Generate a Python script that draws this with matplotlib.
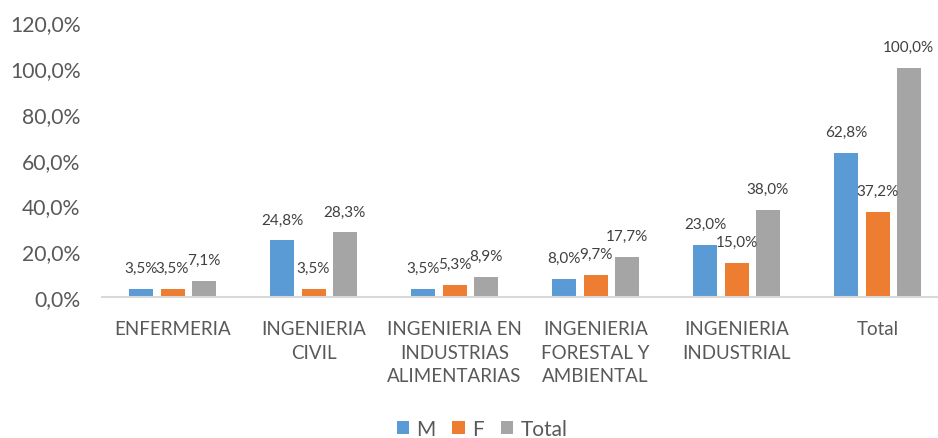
import matplotlib
matplotlib.use("Agg")
import matplotlib.pyplot as plt
import numpy as np

categories = ["ENFERMERIA", "INGENIERIA\nCIVIL", "INGENIERIA EN\nINDUSTRIAS\nALIMENTARIAS",
              "INGENIERIA\nFORESTAL Y\nAMBIENTAL", "INGENIERIA\nINDUSTRIAL", "Total"]
series_names = ["M", "F", "Total"]
m_values = [3.5, 24.8, 3.5, 8.0, 23.0, 62.8]
f_values = [3.5, 3.5, 5.3, 9.7, 15.0, 37.2]
total_values = [7.1, 28.3, 8.9, 17.7, 38.0, 100.0]
y_ticks = [0, 20, 40, 60, 80, 100, 120]

colors = ["#5B9BD5", "#ED7D31", "#A5A5A5"]
text_color = "#595959"
plt.rcParams['font.family'] = ['Lato', 'DejaVu Sans']

W, H = 938, 439
fig = plt.figure(figsize=(W / 100, H / 100), dpi=100)
left, right, bottom_px, top_px = 102, 948, 298.3, 23.1
ax = fig.add_axes([left / W, (H - bottom_px) / H, (right - left) / W, (bottom_px - top_px) / H])

x = np.arange(len(categories))
bw = 24 / 141
step = 31.3 / 141
all_series = [m_values, f_values, total_values]
for i, (name, vals) in enumerate(zip(series_names, all_series)):
    xs = x + (i - 1) * step
    bars = ax.bar(xs, vals, width=bw, color=colors[i], label=name, zorder=3)
    for b, v in zip(bars, vals):
        ax.annotate(f"{v:.1f}%".replace(".", ","),
                    xy=(b.get_x() + b.get_width() / 2, b.get_height()),
                    xytext=(0, 21), textcoords="offset pixels",
                    ha="center", va="center", fontsize=11, color="#404040", zorder=5)

ax.set_xlim(-0.5, len(categories) - 0.5)
ax.set_ylim(0, 120)
ax.set_yticks(y_ticks)
ax.set_yticklabels([f"{t:.1f}%".replace(".", ",") for t in y_ticks])
ax.set_xticks(x)
ax.set_xticklabels(categories, linespacing=1.45)
ax.tick_params(axis="y", length=0, pad=15.5, labelsize=15.2, labelcolor=text_color)
ax.tick_params(axis="x", length=0, pad=16.5, labelsize=13.5, labelcolor=text_color)
for s in ["top", "right", "left"]:
    ax.spines[s].set_visible(False)
ax.spines["bottom"].set_color("#D9D9D9")
ax.spines["bottom"].set_linewidth(1.5)
ax.spines["bottom"].set_zorder(4)

leg = fig.legend(loc="center", bbox_to_anchor=(482 / W, 1 - 430 / H), ncol=3, frameon=False,
                 fontsize=15, handlelength=0.6, handleheight=0.6, handletextpad=0.35,
                 columnspacing=0.8, labelcolor=text_color)

fig.savefig("out.png", dpi=100)
